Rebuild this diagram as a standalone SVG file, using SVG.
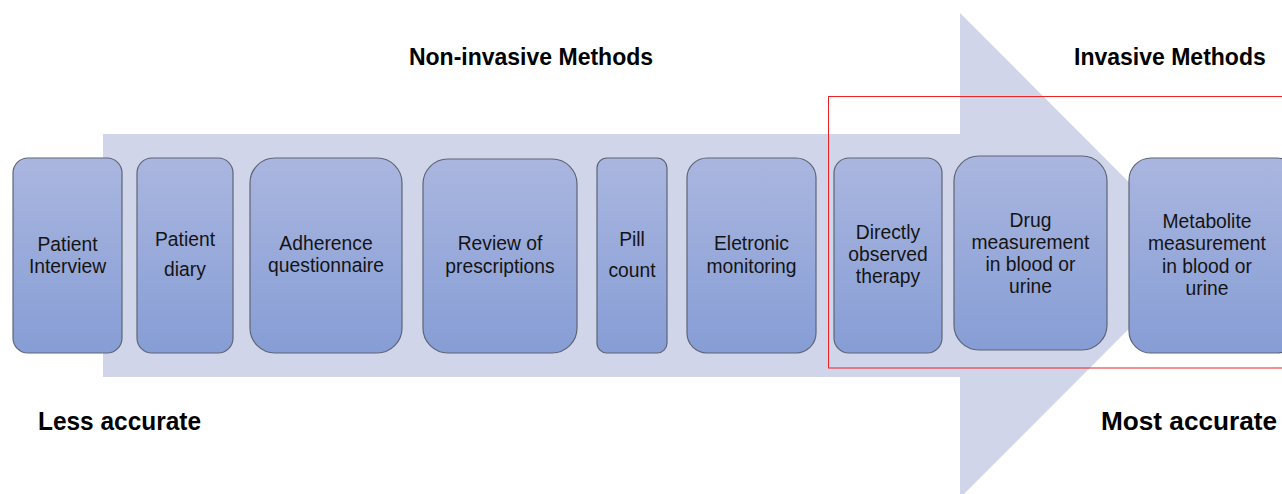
<svg xmlns="http://www.w3.org/2000/svg" width="1282" height="494" viewBox="0 0 1282 494">
<style>
.box{fill:url(#g);stroke:#5E6576;stroke-width:1.2}
.t{font-family:"Liberation Sans",Arial,sans-serif;font-size:19.3px;fill:#141414;text-anchor:middle}
.h{font-family:"Liberation Sans",Arial,sans-serif;font-weight:bold;fill:#000}
</style>
<defs>
<linearGradient id="g" x1="0" y1="0" x2="0" y2="1">
<stop offset="0" stop-color="#AAB6DF"/>
<stop offset="1" stop-color="#869DD5"/>
</linearGradient>
</defs>
<rect width="1282" height="494" fill="#fff"/>
<g id="connectors">
<polygon id="big-arrow" points="103,134 960,134 960,13 1202,255.5 960,498 960,377 103,377" fill="#D0D5EA"/>
</g>
<text class="h" x="531" y="65" font-size="23" text-anchor="middle">Non-invasive Methods</text>
<text class="h" x="1074" y="65" font-size="23">Invasive Methods</text>
<text class="h" x="38" y="430" font-size="25" textLength="163" lengthAdjust="spacingAndGlyphs">Less accurate</text>
<text class="h" x="1101" y="430" font-size="26" textLength="176" lengthAdjust="spacingAndGlyphs">Most accurate</text>
<g id="n1"><rect class="box" x="13" y="158" width="109" height="195" rx="15"/>
<text class="t" x="67.5" y="251">Patient</text><text class="t" x="67.5" y="273">Interview</text></g>
<g id="n2"><rect class="box" x="137" y="158" width="96" height="195" rx="15"/>
<text class="t" x="185" y="246">Patient</text><text class="t" x="185" y="276">diary</text></g>
<g id="n3"><rect class="box" x="250" y="158" width="152" height="195" rx="25"/>
<text class="t" x="326" y="250">Adherence</text><text class="t" x="326" y="272">questionnaire</text></g>
<g id="n4"><rect class="box" x="423" y="159" width="154" height="194" rx="25"/>
<text class="t" x="500" y="250">Review of</text><text class="t" x="500" y="273">prescriptions</text></g>
<g id="n5"><rect class="box" x="597" y="158" width="70" height="195" rx="10"/>
<text class="t" x="632" y="246">Pill</text><text class="t" x="632" y="277">count</text></g>
<g id="n6"><rect class="box" x="687" y="158" width="129" height="195" rx="20"/>
<text class="t" x="751.5" y="250">Eletronic</text><text class="t" x="751.5" y="273">monitoring</text></g>
<g id="n7"><rect class="box" x="834" y="158" width="108" height="195" rx="15"/>
<text class="t" x="888" y="239">Directly</text><text class="t" x="888" y="261">observed</text><text class="t" x="888" y="283">therapy</text></g>
<g id="n8"><rect class="box" x="954" y="156" width="153" height="194" rx="25"/>
<text class="t" x="1030.5" y="227">Drug</text><text class="t" x="1030.5" y="249">measurement</text><text class="t" x="1030.5" y="271">in blood or</text><text class="t" x="1030.5" y="293">urine</text></g>
<g id="n9"><rect class="box" x="1129" y="158" width="170" height="195" rx="22"/>
<text class="t" x="1207" y="228">Metabolite</text><text class="t" x="1207" y="250">measurement</text><text class="t" x="1207" y="273">in blood or</text><text class="t" x="1207" y="295">urine</text></g>
<rect id="highlight" x="828.5" y="96.5" width="470" height="271.5" fill="none" stroke="#EE2222" stroke-width="1"/>
</svg>
